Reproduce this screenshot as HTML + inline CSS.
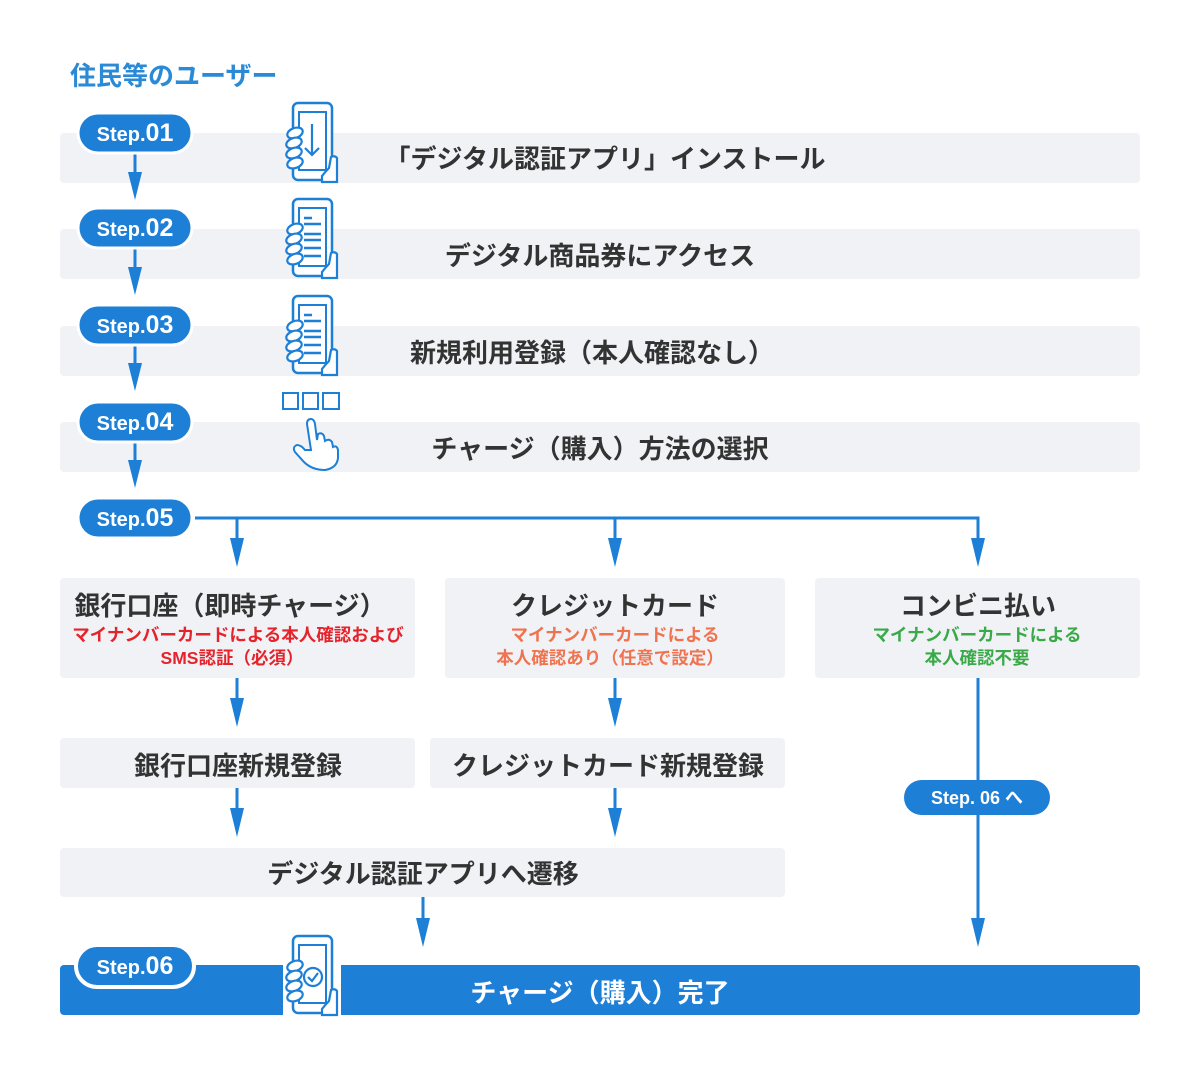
<!DOCTYPE html>
<html><head><meta charset="utf-8"><style>
html,body{margin:0;padding:0;background:#fff}
svg{display:block}
text{font-family:"Liberation Sans","Noto Sans CJK JP",sans-serif}
.t{font-size:26px;font-weight:700;fill:#333;text-anchor:middle}
.p{font-size:20px;font-weight:700;fill:#fff;text-anchor:middle}
.s{font-size:17.5px;font-weight:700;text-anchor:middle}
</style></head><body>
<svg width="1200" height="1074" viewBox="0 0 1200 1074" xmlns="http://www.w3.org/2000/svg">
<defs>
<g id="phone">
 <rect x="8" y="3" width="39" height="77" rx="5" fill="#fff" stroke="#1e7fd6" stroke-width="2.5"/>
 <rect x="14" y="12" width="27" height="58" fill="#fff" stroke="#1e7fd6" stroke-width="2"/>
 <g fill="#fff" stroke="#1e7fd6" stroke-width="2.2">
  <ellipse cx="10" cy="33" rx="8" ry="5" transform="rotate(-20 10 33)"/>
  <ellipse cx="9" cy="43" rx="8" ry="5" transform="rotate(-20 9 43)"/>
  <ellipse cx="9" cy="53" rx="8" ry="5" transform="rotate(-20 9 53)"/>
  <ellipse cx="10" cy="63" rx="8" ry="5" transform="rotate(-20 10 63)"/>
  <path d="M37 82 L37 76 Q40 72 44 68 L46 57 Q50 55 52 58 L52 82 Z"/>
 </g>
</g>
<g id="lines" stroke="#1e7fd6" stroke-width="2.5">
 <line x1="19" y1="22" x2="27" y2="22"/><line x1="19" y1="28" x2="36" y2="28"/>
 <line x1="19" y1="38" x2="36" y2="38"/><line x1="19" y1="44" x2="36" y2="44"/>
 <line x1="19" y1="52" x2="36" y2="52"/><line x1="19" y1="60" x2="36" y2="60"/>
</g>
</defs>

<text x="70" y="85" style="font-size:26px;font-weight:700;fill:#2a8ad6">住民等のユーザー</text>

<g fill="#f0f2f6">
 <rect x="60" y="133" width="1080" height="50" rx="4"/>
 <rect x="60" y="229" width="1080" height="50" rx="4"/>
 <rect x="60" y="326" width="1080" height="50" rx="4"/>
 <rect x="60" y="422" width="1080" height="50" rx="4"/>
 <rect x="60" y="578" width="355" height="100" rx="4"/>
 <rect x="445" y="578" width="340" height="100" rx="4"/>
 <rect x="815" y="578" width="325" height="100" rx="4"/>
 <rect x="60" y="738" width="355" height="50" rx="4"/>
 <rect x="430" y="738" width="355" height="50" rx="4"/>
 <rect x="60" y="848" width="725" height="49" rx="4"/>
</g>
<rect x="60" y="965" width="1080" height="50" rx="4" fill="#1e7fd6"/>

<g stroke="#1e7fd6" stroke-width="3" fill="none">
 <line x1="135" y1="152" x2="135" y2="175"/>
 <line x1="135" y1="247" x2="135" y2="270"/>
 <line x1="135" y1="344" x2="135" y2="366"/>
 <line x1="135" y1="440" x2="135" y2="463"/>
 <polyline points="195,518 978,518 978,540"/>
 <line x1="237" y1="518" x2="237" y2="540"/>
 <line x1="615" y1="518" x2="615" y2="540"/>
 <line x1="237" y1="678" x2="237" y2="700"/>
 <line x1="615" y1="678" x2="615" y2="700"/>
 <line x1="237" y1="788" x2="237" y2="810"/>
 <line x1="615" y1="788" x2="615" y2="810"/>
 <line x1="423" y1="897" x2="423" y2="920"/>
 <line x1="978" y1="678" x2="978" y2="920"/>
</g>
<g fill="#1e7fd6">
 <polygon points="128,172 142,172 135,200"/>
 <polygon points="128,267 142,267 135,295"/>
 <polygon points="128,363 142,363 135,391"/>
 <polygon points="128,460 142,460 135,488"/>
 <polygon points="230,538 244,538 237,567"/>
 <polygon points="608,538 622,538 615,567"/>
 <polygon points="971,538 985,538 978,567"/>
 <polygon points="230,698 244,698 237,727"/>
 <polygon points="608,698 622,698 615,727"/>
 <polygon points="230,808 244,808 237,837"/>
 <polygon points="608,808 622,808 615,837"/>
 <polygon points="416,918 430,918 423,947"/>
 <polygon points="971,918 985,918 978,947"/>
</g>

<g>
 <rect x="78" y="113" width="114" height="40" rx="20" fill="#1e7fd6" stroke="#fff" stroke-width="3"/>
 <text class="p" x="135" y="141">Step.<tspan font-size="25">01</tspan></text>
 <rect x="78" y="208" width="114" height="40" rx="20" fill="#1e7fd6" stroke="#fff" stroke-width="3"/>
 <text class="p" x="135" y="236">Step.<tspan font-size="25">02</tspan></text>
 <rect x="78" y="305" width="114" height="40" rx="20" fill="#1e7fd6" stroke="#fff" stroke-width="3"/>
 <text class="p" x="135" y="333">Step.<tspan font-size="25">03</tspan></text>
 <rect x="78" y="402" width="114" height="40" rx="20" fill="#1e7fd6" stroke="#fff" stroke-width="3"/>
 <text class="p" x="135" y="430">Step.<tspan font-size="25">04</tspan></text>
 <rect x="78" y="498" width="114" height="40" rx="20" fill="#1e7fd6" stroke="#fff" stroke-width="3"/>
 <text class="p" x="135" y="526">Step.<tspan font-size="25">05</tspan></text>
 <rect x="76" y="945" width="118" height="42" rx="21" fill="#1e7fd6" stroke="#fff" stroke-width="4"/>
 <text class="p" x="135" y="974">Step.<tspan font-size="25">06</tspan></text>
 <rect x="904" y="780" width="146" height="35" rx="17.5" fill="#1e7fd6"/>
 <text class="p" x="977" y="804" style="font-size:18px">Step. 06 へ</text>
</g>

<g transform="translate(285,100)"><use href="#phone"/>
 <g stroke="#1e7fd6" stroke-width="2.2" fill="none"><line x1="27" y1="24" x2="27" y2="55"/><polyline points="20,48 27,55 34,48"/></g></g>
<g transform="translate(285,196)"><use href="#phone"/><use href="#lines"/></g>
<g transform="translate(285,293)"><use href="#phone"/><use href="#lines"/></g>
<g stroke="#1e7fd6" stroke-width="2" fill="none">
 <rect x="283" y="393" width="15" height="16"/><rect x="303" y="393" width="15" height="16"/><rect x="323" y="393" width="16" height="16"/>
 <path d="M311 450 L307 424 Q307 419 311 419 Q314 419 315 424 L317 440 L318 434 Q322 432 324 436 L325 441 Q329 438 332 442 L333 447 Q337 445 338 450 L338 458 Q337 468 325 470 Q312 470 304 462 L295 452 Q292 447 297 445 Q301 445 305 450 Z" fill="#fff"/>
</g>
<g transform="translate(285,933)"><rect x="-2" y="0" width="58" height="84" fill="#fff"/><use href="#phone"/>
 <g stroke="#1e7fd6" stroke-width="2.2" fill="none"><circle cx="28" cy="44" r="9"/><polyline points="23,44 27,48 33,40"/></g></g>

<text class="t" x="605" y="168">「デジタル認証アプリ」インストール</text>
<text class="t" x="600" y="265">デジタル商品券にアクセス</text>
<text class="t" x="592" y="362">新規利用登録（本人確認なし）</text>
<text class="t" x="600" y="458">チャージ（購入）方法の選択</text>
<text class="t" x="230" y="615">銀行口座（即時チャージ）</text>
<text class="s" x="238" y="641" fill="#e5232b">マイナンバーカードによる本人確認および</text>
<text class="s" x="232" y="664" fill="#e5232b">SMS認証（必須）</text>
<text class="t" x="615" y="615">クレジットカード</text>
<text class="s" x="615" y="641" fill="#f07350">マイナンバーカードによる</text>
<text class="s" x="610" y="664" fill="#f07350">本人確認あり（任意で設定）</text>
<text class="t" x="978" y="615">コンビニ払い</text>
<text class="s" x="977" y="641" fill="#3aaa48">マイナンバーカードによる</text>
<text class="s" x="977" y="664" fill="#3aaa48">本人確認不要</text>
<text class="t" x="238" y="775">銀行口座新規登録</text>
<text class="t" x="608" y="775">クレジットカード新規登録</text>
<text class="t" x="423" y="883">デジタル認証アプリへ遷移</text>
<text class="t" x="600" y="1002" style="fill:#fff">チャージ（購入）完了</text>
</svg>
</body></html>
